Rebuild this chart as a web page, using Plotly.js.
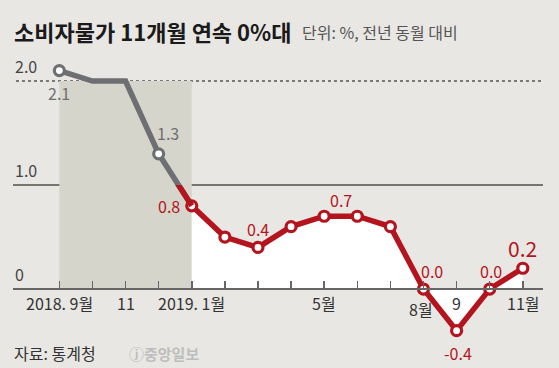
<!DOCTYPE html>
<html>
<head>
<meta charset="utf-8">
<script src="https://cdn.plot.ly/plotly-3.0.1.min.js"></script>
<style>
  html, body { margin: 0; padding: 0; background: #e8e7e3; }
  #chart { width: 559px; height: 368px; }
</style>
</head>
<body>
<div id="chart"></div>
<script>
// ---- data ----
const months = ['2018.9','2018.10','2018.11','2018.12','2019.1','2019.2','2019.3','2019.4','2019.5','2019.6','2019.7','2019.8','2019.9','2019.10','2019.11'];
const cpi = [2.1, 2.0, 2.0, 1.3, 0.8, 0.5, 0.4, 0.6, 0.7, 0.7, 0.6, 0.0, -0.4, 0.0, 0.2];
const tickLabels = ['2018. 9월','','11','','2019. 1월','','','','5월','','','8월','9','','11월'];
const valueLabels = ['2.1','','','1.3','0.8','','0.4','','0.7','','','0.0','-0.4','0.0','0.2'];
const refLines = [2.0, 1.0, 0];
const refLabels = ['2.0', '1.0', '0'];
const titleText = '소비자물가 11개월 연속 0%대';
const unitText = '단위: %, 전년 동월 대비';
const sourceText = '자료: 통계청';
const logoText = 'ⓙ중앙일보';

// ---- styling / geometry ----
const W = 559, H = 368;
const M = {l: 13, r: 16, t: 60, b: 28};
const yRange = [-0.49, 2.202];
const xRange = [-1.40, 14.61];
const RED = '#b3141d', GRAY = '#6e6f72';
const FONT = 'Noto Sans CJK KR, Noto Sans, sans-serif';
const px = x => (x - M.l) / (W - M.l - M.r);
const py = y => (H - M.b - y) / (H - M.t - M.b);
const yFrac = v => (v - yRange[0]) / (yRange[1] - yRange[0]);

const splitIdx = months.indexOf('2019.1');
const grayX = months.slice(0, splitIdx + 1), grayY = cpi.slice(0, splitIdx + 1);
const redX = months.slice(splitIdx), redY = cpi.slice(splitIdx);
const grayMarkIdx = [0, 3];

const traces = [
  {x: grayX, y: grayY, type: 'scatter', mode: 'lines', xaxis: 'x', yaxis: 'y',
   line: {color: GRAY, width: 5.5}, hoverinfo: 'skip'},
  {x: months.slice(splitIdx - 1, splitIdx + 1), y: cpi.slice(splitIdx - 1, splitIdx + 1),
   type: 'scatter', mode: 'lines', xaxis: 'x', yaxis: 'y2',
   line: {color: RED, width: 5.5}, hoverinfo: 'skip'},
  {x: redX, y: redY, type: 'scatter', mode: 'lines', xaxis: 'x', yaxis: 'y',
   fill: 'tozeroy', fillcolor: '#ffffff',
   line: {color: RED, width: 5.5}, hoverinfo: 'skip'},
  {x: grayMarkIdx.map(i => months[i]), y: grayMarkIdx.map(i => cpi[i]),
   type: 'scatter', mode: 'markers', xaxis: 'x', yaxis: 'y3',
   marker: {size: 10, color: '#ffffff', line: {color: GRAY, width: 3.2}}, hoverinfo: 'skip'},
  {x: redX, y: redY, type: 'scatter', mode: 'markers', xaxis: 'x', yaxis: 'y3',
   marker: {size: 10, color: '#ffffff', line: {color: RED, width: 3.2}}, hoverinfo: 'skip'}
];

// ---- annotations ----
const ann = [];
ann.push({text: '<b>' + titleText + '</b>', xref: 'paper', yref: 'paper', x: px(12), y: py(31),
  xanchor: 'left', yanchor: 'middle', showarrow: false, font: {family: FONT, size: 22, color: '#1a1a1a'}});
ann.push({text: unitText, xref: 'paper', yref: 'paper', x: px(300), y: py(32),
  xanchor: 'left', yanchor: 'middle', showarrow: false, font: {family: FONT, size: 16, color: '#555555'}});
ann.push({text: sourceText, xref: 'paper', yref: 'paper', x: px(12), y: py(353),
  xanchor: 'left', yanchor: 'middle', showarrow: false, font: {family: FONT, size: 16, color: '#333333'}});
ann.push({text: '<b>' + logoText + '</b>', xref: 'paper', yref: 'paper', x: px(127), y: py(353),
  xanchor: 'left', yanchor: 'middle', showarrow: false, font: {family: FONT, size: 15, color: '#bdbdbd'}});

refLabels.forEach((t, i) => ann.push({text: t, xref: 'paper', yref: 'y', x: 0, y: refLines[i],
  xanchor: 'left', yanchor: 'bottom', yshift: 1, showarrow: false,
  font: {family: FONT, size: 16, color: '#444444'}}));

tickLabels.forEach((t, i) => {
  if (!t) return;
  const special = (months[i] === '2019.8');
  ann.push({text: t, xref: 'x', yref: 'y', x: i, y: 0,
    xanchor: 'center', yanchor: 'middle', xshift: special ? -2 : 0, yshift: special ? -20 : -14,
    showarrow: false, font: {family: FONT, size: 16, color: '#333333'}});
});

const labelOffsets = {
  '2018.9': [0, -22], '2018.12': [9, 21], '2019.1': [-23, 0], '2019.3': [0, 18],
  '2019.5': [17, 16], '2019.8': [9, 18], '2019.9': [1, -22], '2019.10': [1, 18], '2019.11': [0, 20]
};
valueLabels.forEach((t, i) => {
  if (!t) return;
  const o = labelOffsets[months[i]] || [0, 18];
  const isGray = i < splitIdx;
  const big = (i === months.length - 1);
  ann.push({text: t, xref: 'x', yref: 'y', x: i, y: cpi[i],
    xanchor: 'center', yanchor: 'middle', xshift: o[0], yshift: o[1], showarrow: false,
    font: {family: FONT, size: big ? 21 : 16, color: isGray ? GRAY : RED}});
});

// ---- shapes ----
const shapes = [
  {type: 'rect', xref: 'x', yref: 'y', x0: 0, x1: splitIdx, y0: 0, y1: refLines[0],
   fillcolor: '#d6d5cb', line: {width: 0}, layer: 'below'},
  {type: 'line', xref: 'paper', yref: 'y', x0: px(16), x1: 1, y0: refLines[0], y1: refLines[0],
   line: {color: '#555555', width: 1.5, dash: 'dot'}, layer: 'below'},
  {type: 'line', xref: 'paper', yref: 'y', x0: 0, x1: 1, y0: refLines[1], y1: refLines[1],
   line: {color: '#76766f', width: 2}, layer: 'below'}
];

const layout = {
  width: W, height: H,
  margin: M,
  paper_bgcolor: '#e8e7e3', plot_bgcolor: 'rgba(0,0,0,0)',
  showlegend: false,
  xaxis: {type: 'category', categoryorder: 'array', categoryarray: months, range: xRange,
    anchor: 'free', position: yFrac(0), showline: true, linecolor: '#666666', linewidth: 2,
    ticks: 'inside', ticklen: 7, tickwidth: 1.5, tickcolor: '#666666',
    showticklabels: false, showgrid: false, zeroline: false, fixedrange: true, layer: 'above traces'},
  yaxis: {range: yRange, visible: false, showgrid: false, zeroline: false, fixedrange: true},
  yaxis2: {range: [yRange[0], refLines[1]], domain: [0, yFrac(refLines[1])], anchor: 'x',
    visible: false, showgrid: false, zeroline: false, fixedrange: true},
  yaxis3: {range: yRange, overlaying: 'y', anchor: 'x', visible: false, showgrid: false, zeroline: false, fixedrange: true},
  annotations: ann,
  shapes: shapes
};

Plotly.newPlot('chart', traces, layout, {displayModeBar: false, staticPlot: true});
</script>
</body>
</html>
